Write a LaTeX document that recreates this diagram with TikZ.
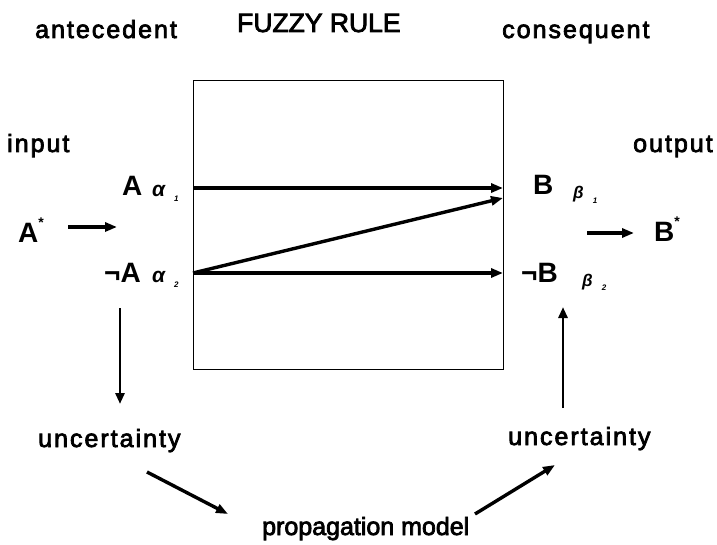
\documentclass[tikz,border=0pt]{standalone}
\usepackage{fontspec}
\setmainfont{Liberation Sans}
\newfontfamily\wordfont[LetterSpace=8, FakeBold=3]{Liberation Sans}
\newfontfamily\plainfont[FakeBold=3]{Liberation Sans}
\usepackage{tikz}
\usetikzlibrary{arrows.meta}

\newcommand{\sub}[1]{\hspace{9pt}\raisebox{-5pt}{\fontsize{8}{8}\selectfont #1}}
\newcommand{\up}{\raisebox{15pt}{\fontsize{14}{14}\selectfont *}}

\begin{document}
\begin{tikzpicture}[x=1pt, y=-1pt,
  word/.style={anchor=base west, inner sep=0pt, font=\wordfont\fontsize{25}{28}\selectfont},
  plainword/.style={anchor=base west, inner sep=0pt, font=\plainfont\fontsize{25}{28}\selectfont},
  title/.style={anchor=base west, inner sep=0pt, font=\plainfont\fontsize{26.5}{30}\selectfont},
  sym/.style={anchor=base west, inner sep=0pt, font=\bfseries\fontsize{28}{32}\selectfont},
  greek/.style={anchor=base west, inner sep=0pt, font=\bfseries\itshape\fontsize{21}{24}\selectfont},
  smallgreek/.style={anchor=base west, inner sep=0pt, font=\bfseries\itshape\fontsize{17}{20}\selectfont},
  arr/.style={-{Triangle[length=12pt, width=9pt]}, line width=3.4pt},
  short/.style={-{Triangle[length=11pt, width=9pt]}, line width=2.8pt}]
  \useasboundingbox (0,0) rectangle (717,545);

  % headings
  \node[word] (ante) at (35,38) {antecedent};
  \node[title] (head) at (237,32) {FUZZY RULE};
  \node[word] (cons) at (502,38) {consequent};
  \node[word] (input) at (7,152) {input};
  \node[word] (output) at (633,152) {output};

  % rule box
  \node[draw, line width=1pt, minimum width=310pt, minimum height=288pt, inner sep=0pt] (rule) at (348,225) {};

  % antecedent side
  \node[sym] (A) at (122,196) {A};
  \node[greek] (a1) at (152,197) {α\sub{1}};
  \node[sym] (notA) at (104,283) {¬A};
  \node[greek] (a2) at (152,283) {α\sub{2}};
  \node[sym] (Astar) at (18,243) {A\up};

  % consequent side
  \node[sym] (B) at (533,195) {B};
  \node[smallgreek] (b1) at (573,199) {β\sub{1}};
  \node[sym] (notB) at (521,283) {¬B};
  \node[smallgreek] (b2) at (582,286) {β\sub{2}};
  \node[sym] (Bstar) at (654,242) {B\up};

  % uncertainty
  \node[word] (uncL) at (38,447) {uncertainty};
  \node[word] (uncR) at (508,445) {uncertainty};
  \node[plainword] (prop) at (262,535) {propagation model};

  % arrow ends
  \coordinate (in1) at (193,188);
  \coordinate (out1) at (503,188);
  \coordinate (in2) at (193,273);
  \coordinate (out2) at (503,273);
  \coordinate (out12) at (503,198);
  \coordinate (Aout) at (68,227);
  \coordinate (Ain) at (117,227);
  \coordinate (Bout) at (587,233);
  \coordinate (Bin) at (634,233);
  \coordinate (downL) at (120,308);
  \coordinate (tipL) at (120,404);
  \coordinate (downR) at (563,408);
  \coordinate (tipR) at (563,307);
  \coordinate (propL) at (147,472);
  \coordinate (propLtip) at (228,514);
  \coordinate (propR) at (475,514);
  \coordinate (propRtip) at (555,465);

  \draw[arr] (in1) -- (out1);
  \draw[arr] (in2) -- (out12);
  \draw[arr] (in2) -- (out2);
  \draw[arr] (Aout) -- (Ain);
  \draw[arr] (Bout) -- (Bin);
  \draw[short] (downL) -- (tipL);
  \draw[short] (downR) -- (tipR);
  \draw[arr] (propL) -- (propLtip);
  \draw[arr] (propR) -- (propRtip);
\end{tikzpicture}
\end{document}
